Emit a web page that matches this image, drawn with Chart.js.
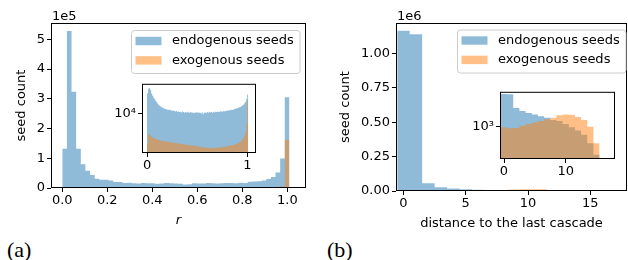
<!DOCTYPE html>
<html>
<head>
<meta charset="utf-8">
<script src="https://cdn.jsdelivr.net/npm/chart.js@4.4.1/dist/chart.umd.min.js"></script>
<style>
  html, body { margin: 0; padding: 0; background: #fff; }
  #page { position: relative; width: 628px; height: 260px; overflow: hidden; }
  #page canvas { position: absolute; }
  .panel { position: absolute; top: 238px; font-family: "Liberation Serif", serif; font-size: 22px; line-height: 24px; color: #000; }
</style>
</head>
<body>
<div id="page">
  <canvas id="mainA" width="314" height="232" style="left:0;top:0"></canvas>
  <canvas id="mainB" width="298" height="232" style="left:330px;top:0"></canvas>
  <canvas id="insetA" width="160" height="104" style="left:100px;top:74px"></canvas>
  <canvas id="insetB" width="164" height="104" style="left:455px;top:82px"></canvas>
  <div class="panel" style="left:7px">(a)</div>
  <div class="panel" style="left:327px">(b)</div>
</div>
<script>
const seriesNames = ['endogenous seeds', 'exogenous seeds'];

// (a) main: r histogram, bins of width 0.0206 starting at 0 (last bin holds r = 1)
const rBinWidth = 0.0206;
const endoR = [
  132000, 528000, 324000, 132000, 80000, 58000, 44000, 31000, 28000, 28000,
  25000, 20000, 20000, 17000, 18000, 16000, 15000, 17000, 16000, 16000,
  14000, 15000, 17000, 16000, 15000, 14000, 12000, 13000, 16000, 15000,
  15000, 17000, 16000, 15000, 16000, 17000, 17000, 16000, 18000, 17000,
  21000, 22000, 23000, 25000, 30000, 37000, 52000, 99000, 305000
];
const exoR = [
  1200, 2600, 2200, 1800, 1600, 1500, 1400, 1300, 1250, 1200,
  1150, 1100, 1050, 1000, 980, 950, 920, 900, 880, 860,
  840, 820, 800, 780, 760, 740, 720, 700, 690, 680,
  670, 660, 650, 640, 630, 620, 620, 630, 650, 680,
  720, 780, 850, 950, 1100, 1400, 2000, 5000, 162000
];
const rTicks = [0, 0.2, 0.4, 0.6, 0.8, 1.0];
const rTickLabels = ['0.0', '0.2', '0.4', '0.6', '0.8', '1.0'];
const countTicksA = [0, 100000, 200000, 300000, 400000, 500000];
const countTickLabelsA = ['0', '1', '2', '3', '4', '5'];

// (a) inset: finer bins, log scale
const rFineBinWidth = 0.0103;
const endoRFine = [
  96400, 166700, 179500, 139000, 96400, 74600, 59900, 51800, 41600, 35900,
  31000, 26800, 24000, 22300, 20000, 19300, 17900, 17300, 16700, 16100,
  15500, 15000, 15500, 14400, 13900, 14400, 13400, 12900, 13400, 12450,
  12900, 12000, 12450, 11560, 12900, 12000, 11160, 12000, 11560, 12450,
  11160, 11560, 12000, 11160, 11560, 10760, 11560, 11160, 12000, 10760,
  11560, 11160, 10370, 11560, 9290, 11160, 11560, 10760, 12000, 11160,
  12450, 11560, 12000, 11160, 12450, 11560, 12450, 12000, 12900, 12000,
  12450, 13400, 12450, 12900, 13900, 12900, 13400, 14400, 13900, 15000,
  14400, 15500, 15000, 16100, 16700, 17300, 17900, 18600, 19300, 20800,
  21500, 23200, 24900, 27800, 32200, 38700, 51800, 86400
];
const exoRFine = [
  334, 930, 1000, 865, 774, 694, 645, 600, 579, 557,
  538, 518, 500, 482, 482, 465, 448, 448, 432, 432,
  416, 416, 401, 401, 387, 387, 373, 373, 360, 360,
  347, 347, 334, 334, 322, 322, 310, 310, 310, 299,
  299, 288, 288, 278, 278, 268, 268, 259, 259, 249,
  249, 240, 240, 232, 232, 224, 224, 216, 216, 216,
  207, 216, 207, 216, 207, 216, 216, 224, 216, 224,
  224, 232, 232, 240, 240, 249, 249, 259, 259, 268,
  278, 278, 288, 299, 310, 322, 334, 347, 373, 401,
  432, 482, 557, 645, 834, 1200, 2990, 41600
];
const insetATicksX = [0, 1];
const insetATickLabelsX = ['0', '1'];
const insetATicksY = [10000];
const insetATickLabelsY = ['10⁴'];

// (b): distance to the last cascade, unit bins centred on integers
const distEdges = [-0.5, 0.5, 1.5, 2.5, 3.5, 4.5, 5.5, 6.5, 7.5, 8.5, 9.5, 10.5, 11.5, 12.5, 13.5, 14.5, 15.5];
const endoDist = [1165000, 1140000, 56000, 28000, 18700, 13200, 9300, 6600, 4040, 3270, 1630, 810, 404, 163, 25, 2];
const exoDist = [810, 660, 705, 1150, 1630, 2310, 3270, 4640, 6580, 11500, 13200, 12300, 7570, 4040, 930, 25];
const distTicks = [0, 5, 10, 15];
const distTickLabels = ['0', '5', '10', '15'];
const countTicksB = [0, 250000, 500000, 750000, 1000000];
const countTickLabelsB = ['0.00', '0.25', '0.50', '0.75', '1.00'];
const insetBTicksX = [0, 10];
const insetBTickLabelsX = ['0', '10'];
const insetBTicksY = [1000];
const insetBTickLabelsY = ['10³'];

const blue = 'rgba(31, 119, 180, 0.5)';
const orange = 'rgba(255, 127, 14, 0.5)';
const font13 = { family: 'DejaVu Sans', size: 13 };

function uniformEdges(width, n) {
  const e = [];
  for (let i = 0; i <= n; i++) e.push(i * width);
  return e;
}

// step outline of a histogram: value i spans edges[i]..edges[i+1]
function steps(edges, counts) {
  const pts = counts.map((c, i) => ({ x: edges[i], y: c }));
  pts.push({ x: edges[counts.length], y: counts[counts.length - 1] });
  return pts;
}

function roundRectPath(ctx, x, y, w, h, r) {
  ctx.beginPath();
  ctx.moveTo(x + r, y);
  ctx.arcTo(x + w, y, x + w, y + h, r);
  ctx.arcTo(x + w, y + h, x, y + h, r);
  ctx.arcTo(x, y + h, x, y, r);
  ctx.arcTo(x, y, x + w, y, r);
  ctx.closePath();
}

// axes frame, white inset background, offset text and matplotlib-like legend
const frame = {
  id: 'frame',
  beforeDatasetsDraw(chart, args, opts) {
    if (!opts.whiteBg) return;
    const a = chart.chartArea;
    chart.ctx.save();
    chart.ctx.fillStyle = '#fff';
    chart.ctx.fillRect(a.left, a.top, a.right - a.left, a.bottom - a.top);
    chart.ctx.restore();
  },
  afterDraw(chart, args, opts) {
    const { ctx, chartArea: a } = chart;
    ctx.save();
    ctx.strokeStyle = '#000';
    ctx.lineWidth = 1;
    ctx.strokeRect(a.left + 0.5, a.top + 0.5, a.right - a.left - 1, a.bottom - a.top - 1);
    ctx.fillStyle = '#000';
    ctx.font = '13px "DejaVu Sans"';
    if (opts.offsetText) {
      ctx.textBaseline = 'alphabetic';
      ctx.textAlign = 'left';
      ctx.fillText(opts.offsetText, a.left + 1, a.top - 3.5);
    }
    if (opts.legend) {
      const w = 168.5, h = 43;
      const x = a.right - opts.legend.right - w, y = a.top + opts.legend.top;
      roundRectPath(ctx, x + 0.5, y + 0.5, w, h, 3);
      ctx.fillStyle = 'rgba(255,255,255,0.8)';
      ctx.fill();
      ctx.strokeStyle = '#cccccc';
      ctx.stroke();
      const colors = [blue, orange];
      seriesNames.forEach((name, i) => {
        const cy = y + 11 + 19.4 * i;
        ctx.fillStyle = colors[i];
        ctx.fillRect(x + 4.5, cy - 4.2, 26, 8.4);
        ctx.fillStyle = '#000';
        ctx.textBaseline = 'middle';
        ctx.fillText(name, x + 41, cy);
      });
    }
    ctx.restore();
  }
};

function makeHist(id, o) {
  const tickGrid = { drawOnChartArea: false, drawTicks: true, tickLength: 4, color: '#000', tickWidth: 1 };
  return new Chart(document.getElementById(id), {
    type: 'line',
    data: {
      datasets: [
        { label: seriesNames[0], data: steps(o.edges, o.endo), backgroundColor: blue, borderColor: 'rgba(0,0,0,0)',
          borderWidth: 0, fill: 'start', stepped: true, pointRadius: 0, order: 1 },
        { label: seriesNames[1], data: steps(o.edges, o.exo), backgroundColor: orange, borderColor: 'rgba(0,0,0,0)',
          borderWidth: 0, fill: 'start', stepped: true, pointRadius: 0, order: 0 }
      ]
    },
    options: {
      responsive: false,
      animation: false,
      events: [],
      layout: { padding: o.padding },
      scales: {
        x: {
          type: 'linear', min: o.xMin, max: o.xMax,
          afterBuildTicks: s => { s.ticks = o.xTicks.map(v => ({ value: v })); },
          afterFit: s => { s.height = o.xHeight; },
          grid: tickGrid,
          border: { display: false },
          ticks: { autoSkip: false, maxRotation: 0, minRotation: 0, padding: 1, color: '#000', font: font13,
                   callback: (v, i) => o.xLabels[i] },
          title: o.xTitle ? { display: true, text: o.xTitle, color: '#000',
                   font: Object.assign({}, font13, o.xTitleFont || {}), padding: { top: 0, bottom: o.xTitlePad } }
                 : { display: false }
        },
        y: {
          type: o.yType, min: o.yMin, max: o.yMax,
          afterBuildTicks: s => { s.ticks = o.yTicks.map(v => ({ value: v })); },
          afterFit: s => { s.width = o.yWidth; },
          grid: tickGrid,
          border: { display: false },
          ticks: { autoSkip: false, padding: 2, color: '#000', font: font13, callback: (v, i) => o.yLabels[i] },
          title: o.yTitle ? { display: true, text: o.yTitle, color: '#000', font: font13,
                   padding: { top: o.yTitlePad, bottom: 0 } } : { display: false }
        }
      },
      plugins: {
        legend: { display: false },
        tooltip: { enabled: false },
        frame: o.frame
      }
    },
    plugins: [frame]
  });
}

makeHist('mainA', {
  edges: uniformEdges(rBinWidth, endoR.length), endo: endoR, exo: exoR,
  padding: { left: 0, top: 23, right: 8, bottom: 0 }, yWidth: 51, xHeight: 44,
  xMin: -0.05, xMax: 1.083, xTicks: rTicks, xLabels: rTickLabels,
  xTitle: 'r', xTitleFont: { style: 'italic' }, xTitlePad: 4,
  yType: 'linear', yMin: 0, yMax: 555000, yTicks: countTicksA, yLabels: countTickLabelsA,
  yTitle: 'seed count', yTitlePad: 14,
  frame: { offsetText: '1e5', legend: { right: 6.5, top: 7 } }
});

makeHist('mainB', {
  edges: distEdges, endo: endoDist, exo: exoDist,
  padding: { left: 0, top: 23, right: 1, bottom: 0 }, yWidth: 66, xHeight: 41,
  xMin: -0.6, xMax: 17.95, xTicks: distTicks, xLabels: distTickLabels,
  xTitle: 'distance to the last cascade', xTitlePad: 1,
  yType: 'linear', yMin: 0, yMax: 1222000, yTicks: countTicksB, yLabels: countTickLabelsB,
  yTitle: 'seed count', yTitlePad: 8,
  frame: { offsetText: '1e6', legend: { right: 1.5, top: 6.5 } }
});

makeHist('insetA', {
  edges: uniformEdges(rFineBinWidth, endoRFine.length), endo: endoRFine, exo: exoRFine,
  padding: { left: 0, top: 7, right: 4, bottom: 0 }, yWidth: 42, xHeight: 25,
  xMin: -0.05, xMax: 1.087, xTicks: insetATicksX, xLabels: insetATickLabelsX,
  yType: 'logarithmic', yMin: 120, yMax: 290000, yTicks: insetATicksY, yLabels: insetATickLabelsY,
  frame: { whiteBg: true }
});

makeHist('insetB', {
  edges: distEdges, endo: endoDist, exo: exoDist,
  padding: { left: 0, top: 7, right: 4, bottom: 0 }, yWidth: 45, xHeight: 27,
  xMin: -0.65, xMax: 18, xTicks: insetBTicksX, xLabels: insetBTickLabelsX,
  yType: 'logarithmic', yMin: 0.8, yMax: 1900000, yTicks: insetBTicksY, yLabels: insetBTickLabelsY,
  frame: { whiteBg: true }
});
</script>
</body>
</html>
